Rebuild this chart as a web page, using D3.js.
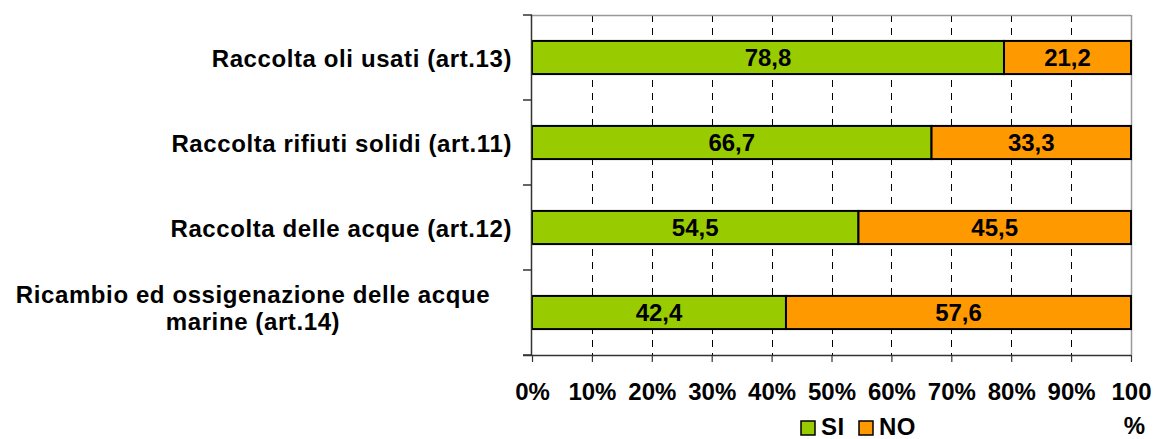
<!DOCTYPE html>
<html>
<head>
<meta charset="utf-8">
<script src="https://cdn.jsdelivr.net/npm/d3@7"></script>
<style>
  body { margin: 0; background: #fff; }
  text { font-family: "Liberation Sans", Arial, sans-serif; font-weight: bold; }
</style>
</head>
<body>
<svg width="1155" height="439"></svg>
<script>
const categories = [
  ["Raccolta oli usati (art.13)"],
  ["Raccolta rifiuti solidi (art.11)"],
  ["Raccolta delle acque (art.12)"],
  ["Ricambio ed ossigenazione delle acque", "marine (art.14)"]
];
const siValues = [78.8, 66.7, 54.5, 42.4];
const noValues = [21.2, 33.3, 45.5, 57.6];
const tickValues = [0, 10, 20, 30, 40, 50, 60, 70, 80, 90, 100];
const seriesNames = ["SI", "NO"];
const colors = ["#99cc00", "#ff9900"];

const svg = d3.select('svg');
const plotL = 532, plotR = 1131, plotT = 15, plotB = 355;

const x = d3.scaleLinear().domain([0, 100]).range([plotL, plotR]);
const y = d3.scaleBand().domain(d3.range(categories.length)).range([plotT, plotB]).paddingInner(0.61).paddingOuter(0.305);

// gridlines
svg.append('g').selectAll('line')
  .data(tickValues.filter(d => d > 0 && d < 100))
  .join('line')
  .attr('x1', d => Math.round(x(d)) + 0.5).attr('x2', d => Math.round(x(d)) + 0.5)
  .attr('y1', plotT).attr('y2', plotB)
  .attr('stroke', '#000').attr('stroke-width', 1)
  .attr('stroke-dasharray', '7,6');

// plot frame top/right
svg.append('line').attr('x1', plotL).attr('x2', plotR).attr('y1', plotT + 0.5).attr('y2', plotT + 0.5)
  .attr('stroke', '#999').attr('stroke-width', 1.5);
svg.append('line').attr('x1', plotR + 0.5).attr('x2', plotR + 0.5).attr('y1', plotT).attr('y2', plotB)
  .attr('stroke', '#999').attr('stroke-width', 1.5);

// bars
const rows = svg.append('g').selectAll('g').data(categories).join('g');
rows.append('rect')
  .attr('x', x(0)).attr('y', (d, i) => y(i))
  .attr('width', (d, i) => x(siValues[i]) - x(0)).attr('height', y.bandwidth())
  .attr('fill', colors[0]).attr('stroke', '#000').attr('stroke-width', 2);
rows.append('rect')
  .attr('x', (d, i) => x(siValues[i])).attr('y', (d, i) => y(i))
  .attr('width', (d, i) => x(siValues[i] + noValues[i]) - x(siValues[i])).attr('height', y.bandwidth())
  .attr('fill', colors[1]).attr('stroke', '#000').attr('stroke-width', 2);

const fmt = v => v.toFixed(1).replace('.', ',');
rows.append('text')
  .attr('x', (d, i) => x(siValues[i] / 2)).attr('y', (d, i) => y(i) + y.bandwidth() / 2 + 8.5)
  .attr('text-anchor', 'middle').attr('font-size', 24)
  .text((d, i) => fmt(siValues[i]));
rows.append('text')
  .attr('x', (d, i) => x(siValues[i] + noValues[i] / 2)).attr('y', (d, i) => y(i) + y.bandwidth() / 2 + 8.5)
  .attr('text-anchor', 'middle').attr('font-size', 24)
  .text((d, i) => fmt(noValues[i]));

// category labels
rows.each(function(lines, i) {
  const t = d3.select(this).append('text')
    .attr('text-anchor', 'middle').attr('font-size', 24).attr('letter-spacing', 0.6);
  const cy = y(i) + y.bandwidth() / 2;
  if (lines.length === 1) {
    t.attr('x', 512).attr('text-anchor', 'end').attr('y', cy + 9.5).text(lines[0]);
  } else {
    lines.forEach((l, k) => {
      t.append('tspan').attr('x', 253).attr('y', cy - 10 + k * 27).text(l);
    });
  }
});

// left axis with category separator ticks
svg.append('line').attr('x1', plotL - 0.5).attr('x2', plotL - 0.5).attr('y1', plotT).attr('y2', plotB)
  .attr('stroke', '#333').attr('stroke-width', 1.5);
svg.append('g').selectAll('line')
  .data(d3.range(categories.length + 1))
  .join('line')
  .attr('x1', plotL - 9).attr('x2', plotL)
  .attr('y1', d => plotT + d * (plotB - plotT) / categories.length)
  .attr('y2', d => plotT + d * (plotB - plotT) / categories.length)
  .attr('stroke', '#333').attr('stroke-width', 1.5);

// bottom axis
const xAxis = svg.append('g')
  .attr('transform', `translate(0,${plotB})`)
  .call(d3.axisBottom(x).tickValues(tickValues).tickSize(7).tickFormat(d => d + '%'));
xAxis.select('.domain').attr('d', `M${plotL - 9},0.5H${plotR}`).attr('stroke', '#333').attr('stroke-width', 1.5);
xAxis.selectAll('.tick line').attr('stroke', '#333').attr('stroke-width', 1.2);
xAxis.selectAll('.tick text')
  .attr('font-size', 24).attr('fill', '#000').attr('y', 45).attr('dy', 0)
  .attr('font-family', '"Liberation Sans", Arial, sans-serif')
  .each(function(d) {
    if (d === 100) {
      const t = d3.select(this).text(null);
      t.append('tspan').attr('x', 0).text('100');
      t.append('tspan').attr('x', 3).attr('dy', 34).text('%');
    }
  });

// legend
const legend = svg.append('g').attr('transform', 'translate(801,421)');
const items = legend.selectAll('g').data(seriesNames).join('g')
  .attr('transform', (d, i) => `translate(${i * 58},0)`);
items.append('rect').attr('width', 14).attr('height', 14)
  .attr('fill', (d, i) => colors[i]).attr('stroke', '#000').attr('stroke-width', 1.5);
items.append('text').attr('x', 20).attr('y', 14).attr('font-size', 24).attr('letter-spacing', 0.5).text(d => d);
</script>
</body>
</html>
